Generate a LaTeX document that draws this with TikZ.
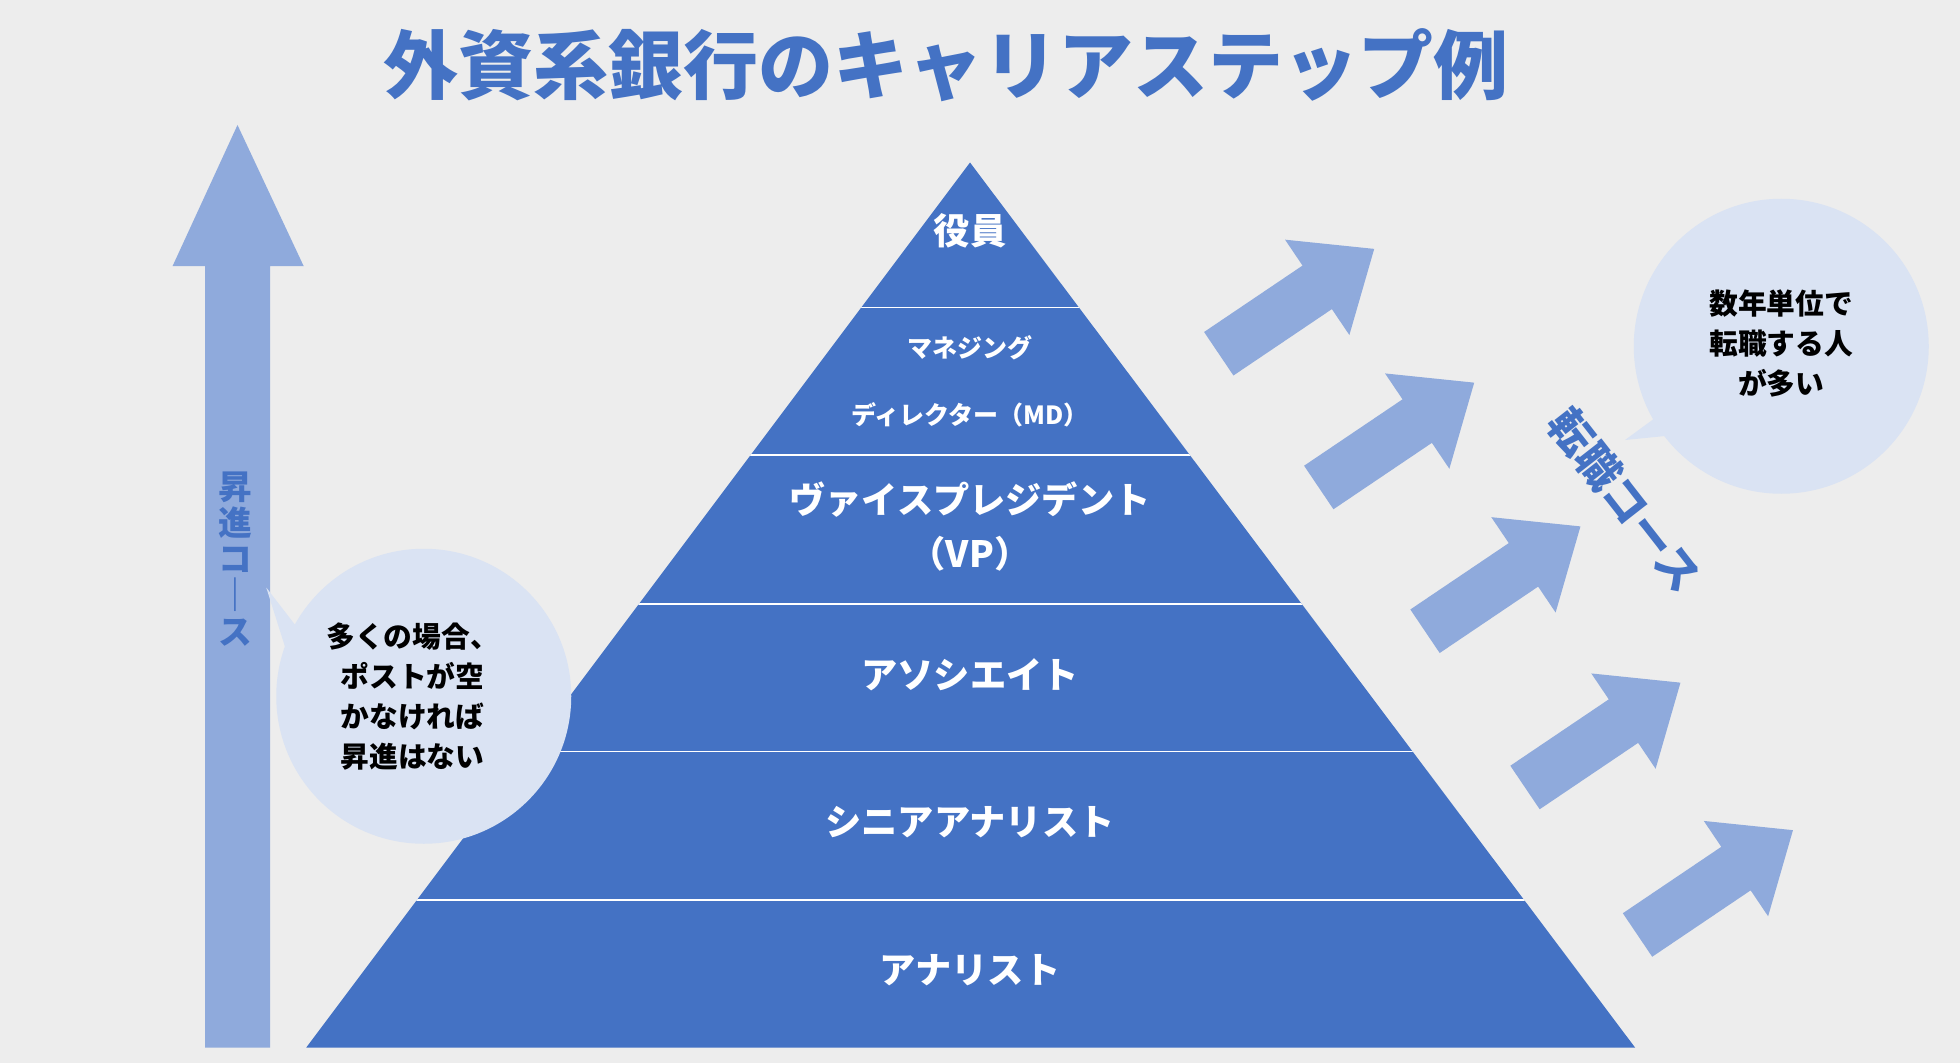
\documentclass[tikz,border=0pt]{standalone}
\usepackage{fontspec}
\setmainfont{Noto Sans CJK JP}
\definecolor{bg}{HTML}{EDEDED}
\definecolor{pyr}{HTML}{4472C4}
\definecolor{arr}{HTML}{8FAADC}
\definecolor{bub}{HTML}{DAE3F3}
\tikzset{lab/.style={text=white,font=\bfseries\fontsize{29}{34}\selectfont,align=center},
bubtxt/.style={text=black,font=\bfseries\fontsize{23}{32}\selectfont,align=center},
fatarrow/.style={fill=arr,draw=none}}
\begin{document}
\begin{tikzpicture}[x=1pt,y=-1pt]
\fill[bg] (0,0) rectangle (1568,850);
\useasboundingbox (0,0) rectangle (1568,850);
\node[text=pyr,font=\bfseries\fontsize{60}{64}\selectfont] (title) at (757,52) {外資系銀行のキャリアステップ例};
% left arrow
\fill[arr] (164,838) -- (164,213) -- (138,213) -- (190,100) -- (243,213) -- (216,213) -- (216,838) -- cycle;
\node[text=pyr,font=\bfseries\fontsize{27}{29}\selectfont,align=center] (up) at (188,447) {昇\\進\\コ\\｜\\ス};
% pyramid
\fill[pyr] (776,130) -- (1308,838) -- (245,838) -- cycle;
\begin{scope}
\clip (776,130) -- (1308,838) -- (245,838) -- cycle;
\foreach \y in {246,364,483,601,720} \draw[white,line width=1.2pt] (200,\y) -- (1350,\y);
\end{scope}
\node[lab] (l1) at (776,185) {役員};
\node[lab,font=\bfseries\fontsize{20}{24}\selectfont] (l2a) at (776,278) {マネジング};
\node[lab,font=\bfseries\fontsize{20}{24}\selectfont] (l2b) at (776,332) {ディレクター（MD）};
\node[lab,font=\bfseries\fontsize{29}{43}\selectfont] (l3) at (776,421) {ヴァイスプレジデント\\（VP）};
\node[lab] (l4) at (776,540) {アソシエイト};
\node[lab] (l5) at (776,658) {シニアアナリスト};
\node[lab] (l6) at (776,776) {アナリスト};
% left bubble
\fill[bub] (339,557) circle (118);
\fill[bub] (213,470) -- (240,505) -- (232,530) -- cycle;
\node[bubtxt] (b1) at (330,557) {多くの場合、\\ポストが空\\かなければ\\昇進はない};
% right bubble
\fill[bub] (1425,277) circle (118);
\fill[bub] (1300,352) -- (1330,330) -- (1340,348) -- cycle;
\node[bubtxt] (b2) at (1425,275) {数年単位で\\転職する人\\が多い};
\node[text=pyr,font=\bfseries\fontsize{35}{36}\selectfont,rotate=-52,inner sep=0pt] (tc) at (1300,400) {転職コース};
% diagonal arrows
\foreach \x/\y in {975/283,1055/390,1140/505,1220/630,1310/748}{
\fill[arr,shift={(\x,\y)},rotate=34] (0,-21) -- (95,-21) -- (95,-46) -- (150,0) -- (95,46) -- (95,21) -- (0,21) -- cycle;
}
\end{tikzpicture}
\end{document}
